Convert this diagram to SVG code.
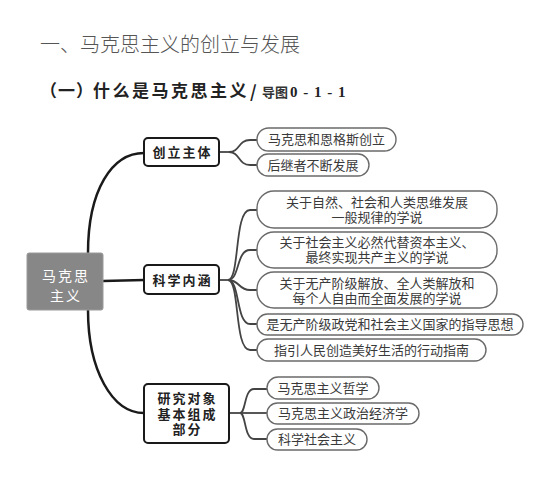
<svg xmlns="http://www.w3.org/2000/svg" width="554" height="485" viewBox="0 0 554 485">
<style>
.bg{fill:#ffffff}
.title{font-family:"Noto Sans CJK SC",sans-serif;font-size:20px;fill:#555;font-weight:300}
.sub{font-family:"Noto Sans CJK SC",serif;font-size:17px;fill:#222;font-weight:700}
.subs{font-family:"Noto Sans CJK SC",serif;font-size:13px;fill:#333;font-weight:700}
.num{font-family:"Liberation Serif",serif;font-size:15px;fill:#222;font-weight:700}
.root{fill:#878787;stroke:#9a9a9a;stroke-width:1}
.roott{font-family:"Noto Sans CJK SC",sans-serif;font-size:14px;fill:#fff;letter-spacing:2px;text-anchor:middle}
.l1{fill:#fff;stroke:#1a1a1a;stroke-width:2}
.l1t{font-family:"Noto Sans CJK SC",sans-serif;font-size:13px;fill:#222;font-weight:700;letter-spacing:2px;text-anchor:middle}
.leaf{fill:#fff;stroke:#6a6a6a;stroke-width:1.4}
.lt{font-family:"Noto Sans CJK SC",serif;font-size:13px;fill:#3a3a3a;text-anchor:middle}
.main{fill:none;stroke:#1a1a1a;stroke-width:2.5}
.br{fill:none;stroke:#444;stroke-width:1.8}
</style>
<rect class="bg" x="0" y="0" width="554" height="485"/>
<text class="title" x="40" y="52">一、马克思主义的创立与发展</text>
<text class="sub" x="40" y="97" letter-spacing="1">（一）</text>
<text class="sub" x="93" y="97" letter-spacing="2.5">什么是马克思主义</text>
<text class="sub" x="250" y="98" font-size="18" font-weight="400">/</text>
<text class="subs" x="262" y="97">导图</text>
<text class="num" x="290" y="97" letter-spacing="1">0 - 1 - 1</text>

<g id="connectors">
<path class="main" d="M88,253 C88,190 112,153 144,153"/>
<path class="main" d="M103,281 L144,280"/>
<path class="main" d="M88,310 C88,370 112,413 144,413"/>
<path class="br" d="M219,152 L229,152"/>
<path class="br" d="M229,152 C240,152 238,140 250,140 L257,140"/>
<path class="br" d="M229,152 C240,152 238,165 250,165 L257,165"/>
<path class="br" d="M219,280 L228,280"/>
<path class="br" d="M228,280 C240,280 234,210 250,210 L257,210"/>
<path class="br" d="M228,280 C240,280 236,250 250,250 L257,250"/>
<path class="br" d="M228,280 C240,280 238,290 250,290 L257,290"/>
<path class="br" d="M228,280 C240,280 236,324 250,324 L257,324"/>
<path class="br" d="M228,280 C240,280 234,350 250,350 L257,350"/>
<path class="br" d="M229,413 L240,413"/>
<path class="br" d="M240,413 C246,413 244,389 254,389 L267,389"/>
<path class="br" d="M240,413 L267,413"/>
<path class="br" d="M240,413 C246,413 244,439 254,439 L267,439"/>
</g>

<g id="root">
<rect class="root" x="27" y="253" width="76" height="57" rx="2"/>
<text class="roott"><tspan x="66" y="281">马克思</tspan><tspan x="66" y="301">主义</tspan></text>
</g>

<g id="n-chuangli">
<rect class="l1" x="144" y="138" width="75" height="28" rx="4"/>
<text class="l1t" x="182.5" y="157">创立主体</text>
</g>
<g id="n-kexue">
<rect class="l1" x="144" y="265" width="75" height="29" rx="4"/>
<text class="l1t" x="182.5" y="284.5">科学内涵</text>
</g>
<g id="n-yanjiu">
<rect class="l1" x="144" y="384" width="85" height="59" rx="4"/>
<text class="l1t" font-size="12.5"><tspan x="187.5" y="403">研究对象</tspan><tspan x="187.5" y="418.5">基本组成</tspan><tspan x="187.5" y="434">部分</tspan></text>
</g>

<g id="leaf-1a">
<rect class="leaf" x="257" y="128" width="139" height="23" rx="11.5"/>
<text class="lt" x="326.5" y="144">马克思和恩格斯创立</text>
</g>
<g id="leaf-1b">
<rect class="leaf" x="257" y="154" width="112" height="22" rx="11"/>
<text class="lt" x="313" y="169.5">后继者不断发展</text>
</g>
<g id="leaf-2a">
<rect class="leaf" x="257" y="191" width="240" height="37" rx="17"/>
<text class="lt"><tspan x="377" y="206.5">关于自然、社会和人类思维发展</tspan><tspan x="377" y="222">一般规律的学说</tspan></text>
</g>
<g id="leaf-2b">
<rect class="leaf" x="257" y="232" width="240" height="36" rx="17"/>
<text class="lt"><tspan x="377" y="246.5">关于社会主义必然代替资本主义、</tspan><tspan x="377" y="262">最终实现共产主义的学说</tspan></text>
</g>
<g id="leaf-2c">
<rect class="leaf" x="257" y="272" width="240" height="36" rx="17"/>
<text class="lt"><tspan x="377" y="287.5">关于无产阶级解放、全人类解放和</tspan><tspan x="377" y="303">每个人自由而全面发展的学说</tspan></text>
</g>
<g id="leaf-2d">
<rect class="leaf" x="257" y="314" width="266" height="21" rx="10.5"/>
<text class="lt" x="390" y="329">是无产阶级政党和社会主义国家的指导思想</text>
</g>
<g id="leaf-2e">
<rect class="leaf" x="257" y="339" width="229" height="22" rx="11"/>
<text class="lt" x="371.5" y="354.5">指引人民创造美好生活的行动指南</text>
</g>
<g id="leaf-3a">
<rect class="leaf" x="267" y="377" width="112" height="22" rx="11"/>
<text class="lt" x="323" y="392.5">马克思主义哲学</text>
</g>
<g id="leaf-3b">
<rect class="leaf" x="267" y="403" width="152" height="21" rx="10.5"/>
<text class="lt" x="343" y="418">马克思主义政治经济学</text>
</g>
<g id="leaf-3c">
<rect class="leaf" x="267" y="429" width="100" height="21" rx="10.5"/>
<text class="lt" x="317" y="444">科学社会主义</text>
</g>
</svg>
